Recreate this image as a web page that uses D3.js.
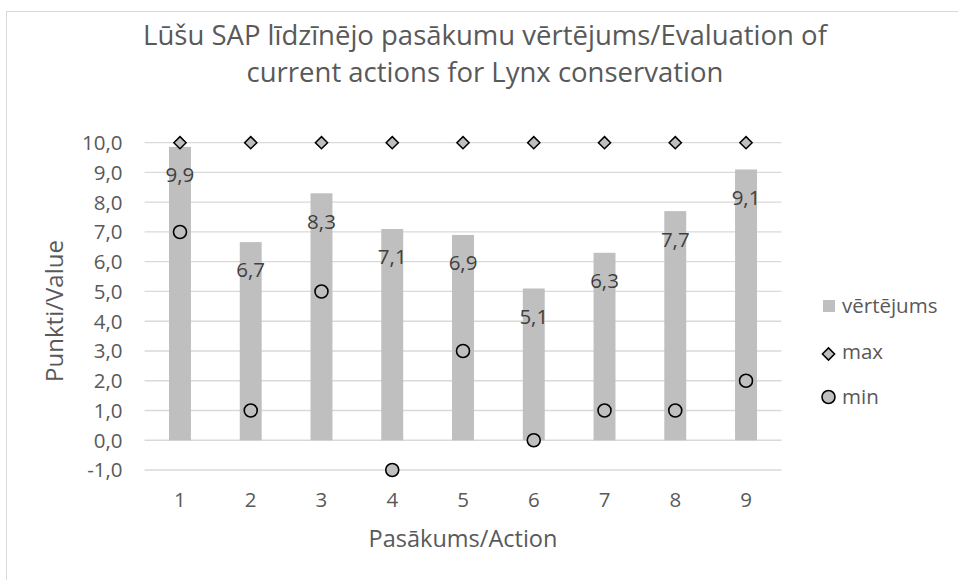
<!DOCTYPE html>
<meta charset="utf-8">
<style>
  body {
    margin: 0;
    background: #fff;
    font-family: "Open Sans", "Noto Sans", Arial, sans-serif;
  }
  .grid line {
    stroke: #d9d9d9;
    stroke-width: 1.3;
  }
</style>
<body>
<script src="https://d3js.org/d3.v7.min.js"></script>
<script>

// data
var actions = ["1", "2", "3", "4", "5", "6", "7", "8", "9"];
var vertejums = [9.86, 6.66, 8.3, 7.1, 6.9, 5.1, 6.3, 7.7, 9.1];
var maxVals = [10, 10, 10, 10, 10, 10, 10, 10, 10];
var minVals = [7, 1, 5, -1, 3, 0, 1, 1, 2];
var yTicks = [-1, 0, 1, 2, 3, 4, 5, 6, 7, 8, 9, 10];

var width = 958,
    height = 580;

var margin = {top: 142.7, right: 176.6, bottom: 110, left: 144.6};

var svg = d3.select("body").append("svg")
    .attr("width", width)
    .attr("height", height);

// chart frame (only top and left edges visible in the picture)
svg.append("rect")
    .attr("x", 6.5)
    .attr("y", 11.5)
    .attr("width", 1000)
    .attr("height", 1000)
    .attr("fill", "none")
    .attr("stroke", "#d9d9d9")
    .attr("stroke-width", 1);

var x = d3.scaleBand()
    .domain(actions)
    .range([margin.left, width - margin.right])
    .paddingInner(0.69)
    .paddingOuter(0.345);

var y = d3.scaleLinear()
    .domain([-1, 10])
    .range([height - margin.bottom, margin.top]);

var fmt = function(v) { return v.toFixed(1).replace(".", ","); };

// gridlines
svg.append("g")
    .attr("class", "grid")
  .selectAll("line")
    .data(yTicks)
  .enter().append("line")
    .attr("x1", margin.left)
    .attr("x2", width - margin.right)
    .attr("y1", function(d) { return y(d); })
    .attr("y2", function(d) { return y(d); });

// y tick labels
svg.append("g").selectAll("text")
    .data(yTicks)
  .enter().append("text")
    .attr("x", 122.5)
    .attr("y", function(d) { return y(d); })
    .attr("dy", "0.36em")
    .attr("text-anchor", "end")
    .attr("fill", "#595959")
    .style("font-size", "20.5px")
    .text(fmt);

// x tick labels
svg.append("g").selectAll("text")
    .data(actions)
  .enter().append("text")
    .attr("x", function(d) { return x(d) + x.bandwidth() / 2; })
    .attr("y", 507)
    .attr("text-anchor", "middle")
    .attr("fill", "#595959")
    .style("font-size", "20.5px")
    .text(function(d) { return d; });

// bars
svg.append("g").selectAll("rect")
    .data(vertejums)
  .enter().append("rect")
    .attr("x", function(d, i) { return x(actions[i]); })
    .attr("width", x.bandwidth())
    .attr("y", function(d) { return y(d); })
    .attr("height", function(d) { return y(0) - y(d); })
    .attr("fill", "#bfbfbf");

// max markers (diamonds)
var diamond = d3.symbol().type(d3.symbolDiamond2).size(95);
svg.append("g").selectAll("path")
    .data(maxVals)
  .enter().append("path")
    .attr("d", diamond)
    .attr("transform", function(d, i) {
      return "translate(" + (x(actions[i]) + x.bandwidth() / 2) + "," + y(d) + ")";
    })
    .attr("fill", "#bfbfbf")
    .attr("stroke", "#000")
    .attr("stroke-width", 1.5);

// min markers (circles)
svg.append("g").selectAll("circle")
    .data(minVals)
  .enter().append("circle")
    .attr("cx", function(d, i) { return x(actions[i]) + x.bandwidth() / 2; })
    .attr("cy", function(d) { return y(d); })
    .attr("r", 6.5)
    .attr("fill", "#bfbfbf")
    .attr("stroke", "#000")
    .attr("stroke-width", 1.6);

// bar value labels
svg.append("g").selectAll("text")
    .data(vertejums)
  .enter().append("text")
    .attr("x", function(d, i) { return x(actions[i]) + x.bandwidth() / 2; })
    .attr("y", function(d) { return y(d) + 28; })
    .attr("dy", "0.36em")
    .attr("text-anchor", "middle")
    .attr("fill", "#404040")
    .style("font-size", "20.5px")
    .text(fmt);

// title
var title = svg.append("text")
    .attr("x", 485)
    .attr("text-anchor", "middle")
    .attr("fill", "#595959")
    .style("font-size", "27.5px");
title.append("tspan").attr("x", 485).attr("y", 45).text("Lūšu SAP līdzīnējo pasākumu vērtējums/Evaluation of");
title.append("tspan").attr("x", 485).attr("y", 82).text("current actions for Lynx conservation");

// axis titles
svg.append("text")
    .attr("transform", "translate(63," + 311 + ")rotate(-90)")
    .attr("text-anchor", "middle")
    .attr("fill", "#595959")
    .style("font-size", "24px")
    .text("Punkti/Value");

svg.append("text")
    .attr("x", (margin.left + width - margin.right) / 2)
    .attr("y", 547)
    .attr("text-anchor", "middle")
    .attr("fill", "#595959")
    .style("font-size", "23.5px")
    .text("Pasākums/Action");

// legend
var legend = svg.append("g");
legend.append("rect")
    .attr("x", 823).attr("y", 300)
    .attr("width", 12).attr("height", 12)
    .attr("fill", "#bfbfbf");
legend.append("path")
    .attr("d", diamond)
    .attr("transform", "translate(828.5,354)")
    .attr("fill", "#bfbfbf")
    .attr("stroke", "#000")
    .attr("stroke-width", 1.5);
legend.append("circle")
    .attr("cx", 828.5).attr("cy", 397)
    .attr("r", 6.5)
    .attr("fill", "#bfbfbf")
    .attr("stroke", "#000")
    .attr("stroke-width", 1.6);

var legendItems = ["vērtējums", "max", "min"];
legend.selectAll("text")
    .data(legendItems)
  .enter().append("text")
    .attr("x", 842)
    .attr("y", function(d, i) { return 306 + i * 45.5; })
    .attr("dy", "0.36em")
    .attr("fill", "#595959")
    .style("font-size", "20.5px")
    .text(function(d) { return d; });

</script>
</body>
</html>
